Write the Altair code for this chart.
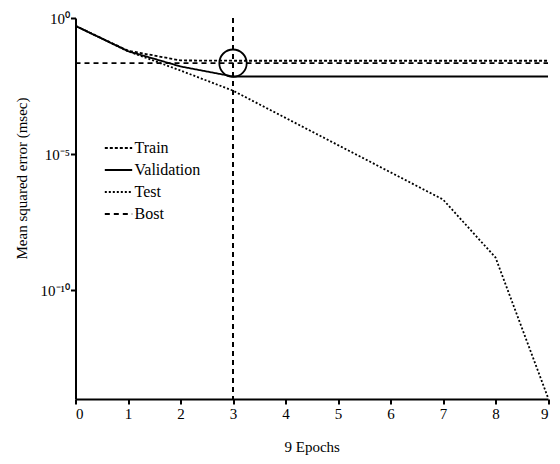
import altair as alt
import pandas as pd

# ---- data (log10 of mean squared error) ----
epochs = [0, 1, 2, 3, 4, 5, 6, 7, 8, 9]
train_log = [-0.29, -1.2, -1.56, -1.57, -1.57, -1.57, -1.57, -1.57, -1.57, -1.57]
valid_log = [-0.29, -1.22, -1.78, -2.15, -2.15, -2.15, -2.15, -2.15, -2.15, -2.15]
test_log = [-0.29, -1.22, -1.93, -2.67, -3.67, -4.67, -5.67, -6.67, -8.8, -13.95]
best_epoch = 3
best_log = -1.66
best_span = [0, 9]

series_names = ["Train", "Validation", "Test", "Bost"]
series_dash = [[3, 2], [1, 0], [2, 2], [5, 4]]

y_tick_values = [1, 1e-5, 1e-10]
y_tick_labels = ["10⁰", "10⁻⁵", "10⁻¹⁰"]
x_tick_values = [0, 1, 2, 3, 4, 5, 6, 7, 8, 9]

rows = []
for name, vals in [("Train", train_log), ("Validation", valid_log), ("Test", test_log)]:
    for e, v in zip(epochs, vals):
        rows.append({"epoch": e, "mse": 10 ** v, "series": name})
for e in best_span:
    rows.append({"epoch": e, "mse": 10 ** best_log, "series": "Bost"})
df = pd.DataFrame(rows)

best_df = pd.DataFrame({"epoch": [best_epoch], "mse": [10 ** best_log]})

# label expression built from tick lists
expr = "'" + y_tick_labels[-1] + "'"
for val, lab in reversed(list(zip(y_tick_values[:-1], y_tick_labels[:-1]))):
    expr = f"datum.value >= {val * 0.5} ? '{lab}' : " + expr

FONT = "Liberation Serif"

x_enc = alt.X(
    "epoch:Q",
    scale=alt.Scale(domain=[0, 9], nice=False),
    axis=alt.Axis(values=x_tick_values, format="d", title="9 Epochs", titlePadding=18),
)
y_enc = alt.Y(
    "mse:Q",
    scale=alt.Scale(type="log", domain=[1e-14, 1], nice=False),
    axis=alt.Axis(
        values=y_tick_values,
        labelExpr=expr,
        title="Mean squared error (msec)",
        labelPadding=1,
        titleX=-54.5,
        titleY=160,
        titleAngle=270,
        titleAlign="center",
        titleBaseline="middle",
    ),
)

lines = alt.Chart(df).mark_line(color="black", strokeWidth=1.8).encode(
    x=x_enc,
    y=y_enc,
    strokeDash=alt.StrokeDash(
        "series:N",
        scale=alt.Scale(domain=series_names, range=series_dash),
        legend=alt.Legend(
            title=None,
            orient="none",
            legendX=28,
            legendY=121,
            symbolType="stroke",
            symbolSize=750,
            symbolStrokeWidth=2,
            symbolStrokeColor="black",
            labelFont=FONT,
            labelFontSize=16,
            labelColor="black",
            labelOffset=1,
            rowPadding=4,
            clipHeight=18,
        ),
    ),
    detail="series:N",
)

vline = alt.Chart(best_df).mark_rule(color="black", strokeWidth=2, strokeDash=[5, 4]).encode(
    x="epoch:Q"
)

circle = alt.Chart(best_df).mark_point(
    shape="circle", size=750, color="black", filled=False, strokeWidth=1.8, opacity=1
).encode(x="epoch:Q", y="mse:Q")

chart = (
    alt.layer(lines, vline, circle)
    .properties(
        width=472.5,
        height=381,
        autosize=alt.AutoSizeParams(type="none"),
        padding={"left": 67.5, "top": 10, "right": 4, "bottom": 57},
    )
    .configure_view(stroke=None)
    .configure_axis(
        grid=False,
        domainColor="black",
        domainWidth=2,
        tickColor="black",
        tickWidth=2,
        tickSize=5,
        labelFont=FONT,
        labelFontSize=15,
        labelColor="black",
        titleFont=FONT,
        titleFontSize=15,
        titleFontWeight="normal",
        titleColor="black",
    )
)

chart.save("out.html", embed_options={"renderer": "svg", "actions": False})
